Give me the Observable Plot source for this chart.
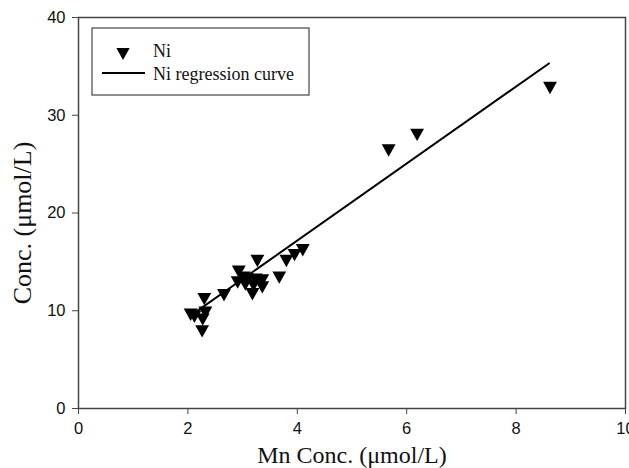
<!DOCTYPE html>
<html>
<head>
<meta charset="utf-8">
<script src="https://cdn.jsdelivr.net/npm/d3@7"></script>
<script src="https://cdn.jsdelivr.net/npm/@observablehq/plot@0.6"></script>
<style>
  html, body { margin: 0; padding: 0; background: white; }
</style>
</head>
<body>
<div id="chart"></div>
<script>
// Ni measurements (Mn conc. vs Ni conc.)
const niX = [2.05, 2.12, 2.26, 2.27, 2.30, 2.32, 2.66, 2.93, 2.91, 3.02, 3.09, 3.05, 3.20, 3.24, 3.27, 3.36, 3.36, 3.18, 3.67, 3.80, 3.95, 4.10, 5.67, 6.19, 8.62];
const niY = [9.8, 9.6, 8.1, 9.3, 11.4, 10.0, 11.8, 14.2, 13.1, 13.6, 13.4, 12.9, 12.8, 13.4, 15.3, 13.3, 12.6, 11.9, 13.6, 15.3, 15.9, 16.4, 26.6, 28.2, 33.0];
// Regression curve end points
const regX = [2.1, 8.6];
const regY = [9.7, 35.3];
// Ticks and labels
const xTicks = [0, 2, 4, 6, 8, 10];
const yTicks = [0, 10, 20, 30, 40];
const xTitle = "Mn Conc. (\u03bcmol/L)";
const yTitle = "Conc. (\u03bcmol/L)";
const legendLabels = ["Ni", "Ni regression curve"];

const ni = niX.map((x, i) => ({x, y: niY[i]}));
const reg = regX.map((x, i) => ({x, y: regY[i]}));

const triDown = {
  draw(context, size) {
    const r = Math.sqrt(size / Math.PI);
    const w = r * 0.95, h = r * 1.7;
    context.moveTo(-w, -h / 3);
    context.lineTo(w, -h / 3);
    context.lineTo(0, 2 * h / 3);
    context.closePath();
  }
};

const serif = "'Liberation Serif', 'Times New Roman', serif";

const chart = Plot.plot({
  width: 629,
  height: 468,
  marginLeft: 78,
  marginRight: 4,
  marginTop: 17,
  marginBottom: 60,
  style: {fontFamily: "'Liberation Sans', Arial, sans-serif", fontSize: "16px", background: "white", color: "#222"},
  x: {domain: [0, 10]},
  y: {domain: [0, 40]},
  marks: [
    Plot.axisX({ticks: xTicks, tickSize: 6, tickPadding: 8, fontSize: 16, label: null, stroke: "#444", fill: "#111"}),
    Plot.axisY({ticks: yTicks, tickSize: 6, tickPadding: 7, fontSize: 16, label: null, stroke: "#444", fill: "#111"}),
    Plot.frame({stroke: "#444", strokeWidth: 1.5}),
    Plot.line(reg, {x: "x", y: "y", stroke: "black", strokeWidth: 2}),
    Plot.dot(ni, {x: "x", y: "y", symbol: triDown, r: 7.3, fill: "black", stroke: "none"}),
    Plot.text([xTitle], {frameAnchor: "bottom", dy: 54, lineAnchor: "bottom", fontSize: 24, fontFamily: serif, fill: "#111"}),
    Plot.text([yTitle], {frameAnchor: "left", dx: -56, dy: 10, rotate: -90, textAnchor: "middle", fontSize: 26, fontFamily: serif, fill: "#111"})
  ]
});

const svg = d3.select(chart);
// Numeric tick labels
svg.selectAll("text").filter(function() { return /^\d+$/.test(this.textContent.trim()); })
  .style("font-size", "16.5px").style("font-family", "'Liberation Sans', Arial, sans-serif");

// Legend box drawn inside the SVG
const lg = svg.append("g").attr("class", "legend");
lg.append("rect").attr("x", 92).attr("y", 28).attr("width", 217).attr("height", 67)
  .attr("fill", "white").attr("stroke", "#444").attr("stroke-width", 1.2);
lg.append("path").attr("transform", "translate(123,52)")
  .attr("d", d3.symbol(triDown, 7 * 7 * Math.PI)()).attr("fill", "black");
lg.append("line").attr("x1", 102).attr("x2", 145).attr("y1", 73).attr("y2", 73)
  .attr("stroke", "black").attr("stroke-width", 2);
lg.selectAll("text.lab").data(legendLabels).join("text")
  .attr("class", "lab")
  .attr("x", 153).attr("y", (d, i) => 57 + i * 23)
  .attr("text-anchor", "start")
  .attr("font-family", serif).attr("font-size", 18).attr("fill", "#111")
  .text(d => d);

document.getElementById("chart").appendChild(chart);
</script>
</body>
</html>
